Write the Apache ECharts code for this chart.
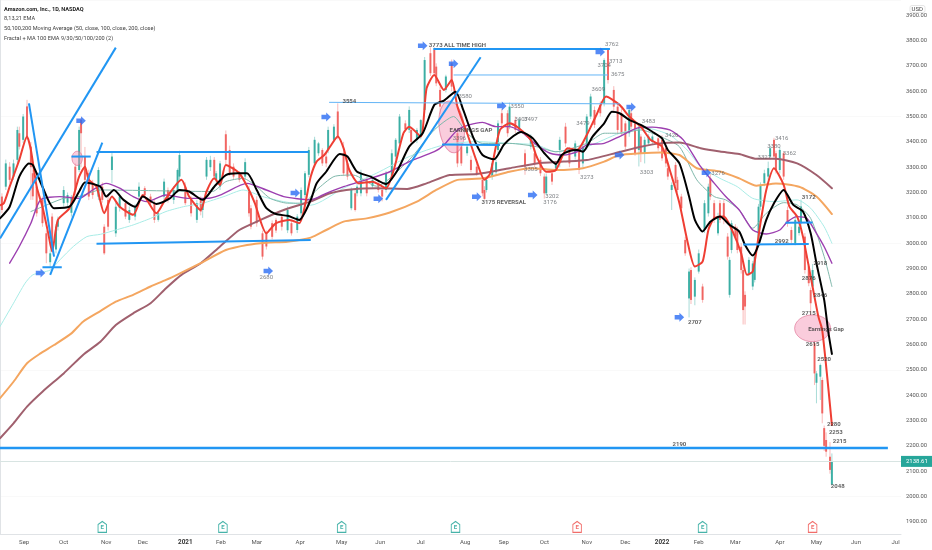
<!DOCTYPE html>
<html><head><meta charset="utf-8">
<style>html,body{margin:0;padding:0;background:#fff}#c{width:932px;height:550px}</style>
<script src="https://cdn.jsdelivr.net/npm/echarts@6/dist/echarts.min.js"></script>
</head><body><div id="c"></div>
<script>
const headerLines = ["Amazon.com, Inc., 1D, NASDAQ","8,13,21 EMA","50,100,200 Moving Average (50, close, 100, close, 200, close)","Fractal + MA 100 EMA 9/30/50/100/200 (2)"];
const priceTicks = [1900,2000,2100,2200,2300,2400,2500,2600,2700,2800,2900,3000,3100,3200,3300,3400,3500,3600,3700,3800,3900];
const monthBars = [12.5,33,55,74,96,114.5,133,155.5,177,197,218,241,261,282,304,324,343,362,381,404,423,443.5,464];
const monthNames = ["Sep","Oct","Nov","Dec","2021","Feb","Mar","Apr","May","Jun","Jul","Aug","Sep","Oct","Nov","Dec","2022","Feb","Mar","Apr","May","Jun","Jul"];
const lastPrice = 2138.61;
// bar, open, close, low, high
const candles = [[1,3184,3131,3118,3197],[3,3223,3315,3210,3330],[5,3302,3250,3236,3320],[7,3263,3315,3250,3330],[9,3329,3447,3315,3460],[10,3434,3381,3370,3460],[12,3408,3500,3395,3510],[14,3540,3420,3408,3566],[16,3381,3300,3171,3400],[17,3276,3185,3171,3290],[19,3223,3118,3105,3236],[22,3171,3079,3065,3184],[24,3039,2960,2921,3050],[26,2925,2960,2908,2975],[27,3105,2987,2975,3118],[29,2975,3065,2960,3075],[30,3065,3092,3050,3105],[33,3158,3210,3144,3225],[35,3160,3190,3144,3200],[37,3120,3180,3105,3190],[39,3302,3210,3190,3315],[41,3289,3447,3280,3460],[42,3487,3434,3300,3495],[44,3342,3250,3240,3380],[46,3276,3184,3170,3290],[48,3236,3190,3175,3250],[51,3184,3289,3170,3300],[53,3223,3171,3160,3240],[54,3065,2960,2954,3075],[56,3171,3065,3050,3190],[58,3289,3342,3236,3362],[60,3039,3144,3025,3160],[62,3140,3184,3125,3195],[65,3158,3105,3095,3170],[67,3092,3131,3080,3145],[70,3105,3144,3090,3155],[72,3184,3223,3170,3240],[75,3217,3190,3180,3225],[78,3184,3158,3150,3195],[80,3158,3092,3080,3170],[82,3092,3118,3085,3125],[85,3184,3243,3170,3255],[87,3210,3171,3160,3220],[90,3171,3210,3155,3225],[92,3210,3289,3200,3295],[93,3263,3348,3250,3365],[96,3223,3158,3150,3240],[99,3171,3118,3105,3185],[102,3092,3158,3080,3170],[104,3171,3125,3110,3185],[105,3131,3158,3100,3175],[107,3263,3329,3250,3340],[109,3300,3329,3285,3345],[111,3329,3263,3250,3340],[112,3250,3276,3240,3285],[114,3223,3315,3210,3325],[117,3430,3329,3310,3445],[119,3368,3276,3265,3385],[121,3302,3263,3250,3315],[124,3276,3250,3240,3285],[127,3263,3320,3250,3335],[129,3210,3118,3105,3225],[130,3138,3065,3055,3150],[133,3171,3079,3065,3185],[136,3039,2947,2935,3050],[138,3039,2987,2975,3050],[141,3079,3025,3015,3090],[143,3092,3050,3040,3100],[146,3105,3065,3050,3115],[149,3051,3131,3040,3145],[151,3079,3039,3030,3090],[154,3052,3105,3040,3115],[156,3118,3210,3105,3220],[158,3190,3276,3180,3285],[160,3270,3368,3260,3380],
[163,3315,3408,3300,3420],[165,3355,3394,3345,3400],[167,3368,3315,3305,3375],[169,3342,3315,3300,3355],[170,3368,3447,3355,3460],[173,3408,3460,3400,3470],[175,3520,3421,3410,3552],[178,3355,3276,3265,3400],[180,3315,3263,3250,3330],[182,3138,3210,3130,3220],[184,3197,3131,3125,3210],[185,3197,3223,3185,3235],[187,3197,3276,3185,3290],[190,3250,3197,3185,3260],[193,3225,3250,3215,3260],[196,3236,3210,3200,3250],[198,3210,3184,3165,3220],[200,3210,3276,3200,3285],[203,3263,3355,3250,3370],[205,3342,3408,3330,3415],[207,3394,3500,3385,3510],[210,3473,3450,3440,3485],[212,3447,3526,3435,3540],[213,3447,3400,3390,3460],[216,3408,3447,3395,3455],[218,3421,3486,3410,3490],[220,3526,3723,3515,3735],[223,3750,3671,3660,3773],[225,3763,3671,3660,3773],[226,3697,3631,3620,3710],[228,3605,3539,3510,3618],[231,3605,3658,3595,3665],[234,3710,3618,3600,3725],[237,3434,3315,3300,3450],[239,3381,3315,3305,3395],[242,3355,3381,3345,3390],[244,3329,3289,3280,3345],[247,3302,3276,3265,3315],[250,3250,3197,3185,3262],[251,3210,3175,3172,3225],[252,3210,3250,3200,3262],[255,3263,3315,3250,3325],[257,3280,3320,3270,3330],[258,3368,3473,3355,3485],[260,3513,3473,3460,3530],[263,3513,3434,3420,3525],[264,3460,3539,3450,3555],[267,3486,3447,3435,3500],[269,3447,3486,3435,3497],[272,3355,3302,3270,3370],[275,3381,3421,3370,3430],[277,3355,3315,3300,3365],[280,3329,3276,3265,3340],[282,3263,3197,3176,3275],[283,3197,3263,3190,3275],[286,3276,3243,3230,3290],[288,3295,3315,3285,3325],[290,3368,3408,3300,3420],[293,3460,3394,3380,3475],[295,3368,3315,3300,3380],[298,3342,3394,3330,3405],[300,3368,3289,3273,3380],[302,3315,3381,3300,3395],[304,3381,3500,3370,3510],[306,3500,3579,3490,3590],[308,3526,3467,3455,3540],[311,3546,3513,3500,3560],[313,3552,3723,3540,3730],[315,3763,3644,3630,3770],[318,3605,3539,3520,3620],[320,3539,3447,3430,3550],
[322,3513,3434,3425,3530],[324,3473,3381,3370,3483],[326,3434,3526,3420,3540],[327,3513,3460,3450,3539],[329,3473,3355,3345,3483],[331,3368,3460,3303,3473],[332,3421,3355,3320,3430],[334,3355,3408,3315,3420],[336,3394,3421,3385,3430],[338,3400,3421,3390,3430],[341,3414,3375,3365,3425],[343,3408,3335,3325,3426],[345,3375,3315,3300,3385],[346,3296,3263,3250,3310],[348,3210,3230,3131,3240],[350,3309,3237,3225,3320],[351,3250,3210,3200,3262],[353,3184,3138,3125,3195],[355,3013,2960,2950,3025],[357,2782,2888,2707,2900],[358,2894,2776,2760,2905],[360,2789,2855,2755,2865],[362,2888,2960,2880,2975],[364,2829,2776,2765,2840],[365,3052,3158,3040,3170],[367,3118,3223,3105,3235],[368,3256,3184,3170,3276],[370,3158,3092,3080,3170],[372,3039,3105,3030,3120],[373,3158,3092,3080,3170],[375,3158,3092,3075,3170],[377,3026,2947,2935,3040],[378,2796,2934,2785,2945],[379,2973,3079,2960,3090],[381,3065,3026,3015,3075],[382,3052,2973,2960,3065],[384,2986,2894,2880,3000],[385,2894,2736,2679,2905],[386,2796,2750,2679,2810],[388,2881,2934,2870,2945],[390,2829,2920,2815,2930],[391,2855,2947,2845,2960],[393,3013,3144,3000,3155],[394,3144,3230,3130,3240],[396,3237,3276,3225,3290],[398,3263,3296,3250,3322],[399,3342,3375,3330,3385],[401,3408,3342,3330,3416],[402,3355,3289,3275,3365],[404,3289,3368,3275,3378],[406,3355,3263,3250,3362],[408,3131,3079,3065,3145],[410,3052,3013,3000,3065],[412,3000,3092,2992,3105],[414,3040,3065,3030,3085],[415,3079,3145,3065,3172],[417,3026,2894,2880,3040],[419,2908,2842,2830,2918],[420,2815,2763,2715,2825],[421,2829,2894,2815,2918],[422,2605,2486,2440,2615],[423,2449,2486,2368,2495],[425,2473,2519,2381,2525],[426,2460,2328,2289,2470],[427,2270,2200,2180,2280],[428,2223,2177,2157,2253],[430,2157,2105,2090,2215],[431,2047,2138,2048,2170]];
const ema8 = [[0,3150],[2,3158],[5,3223],[10,3329],[14,3421],[16,3368],[19,3223],[22,3144],[25,3039],[27,2967],[30,3092],[36,3138],[39,3210],[41,3263],[44,3302],[46,3250],[50,3223],[54,3118],[58,3184],[62,3144],[69,3112],[74,3190],[81,3118],[86,3177],[94,3250],[98,3184],[104,3131],[107,3204],[111,3256],[114,3230],[117,3309],[124,3276],[129,3210],[132,3158],[138,3039],[143,3079],[150,3092],[155,3079],[161,3263],[164,3322],[168,3348],[171,3381],[175,3421],[178,3375],[181,3289],[186,3236],[193,3243],[200,3217],[204,3289],[209,3434],[212,3460],[218,3421],[221,3611],[225,3664],[230,3605],[234,3644],[237,3539],[242,3434],[247,3322],[251,3250],[254,3276],[259,3447],[264,3473],[269,3453],[275,3407],[278,3342],[283,3282],[288,3289],[294,3375],[299,3368],[304,3427],[309,3506],[314,3579],[321,3546],[326,3500],[332,3460],[337,3408],[343,3381],[347,3289],[352,3158],[356,3013],[360,2908],[364,2927],[367,3052],[370,3098],[375,3105],[380,3039],[384,2960],[387,2875],[390,2888],[394,3079],[397,3210],[401,3296],[406,3230],[409,3144],[413,3105],[416,3026],[420,2868],[424,2710],[426,2657],[431,2282]];
const ema21 = [[0,3098],[5,3144],[10,3263],[15,3315],[17,3309],[22,3223],[28,3138],[36,3144],[41,3204],[44,3240],[52,3223],[55,3184],[59,3210],[64,3171],[70,3144],[74,3184],[81,3155],[88,3177],[93,3210],[98,3204],[105,3171],[111,3223],[117,3269],[123,3276],[128,3276],[133,3210],[138,3138],[143,3115],[149,3108],[155,3092],[161,3171],[164,3236],[169,3282],[176,3352],[180,3342],[185,3282],[192,3263],[200,3234],[206,3289],[212,3381],[219,3434],[225,3546],[230,3563],[236,3598],[240,3526],[245,3421],[250,3348],[256,3331],[261,3388],[266,3423],[270,3439],[276,3414],[282,3355],[288,3313],[291,3348],[295,3364],[299,3368],[302,3361],[307,3421],[313,3473],[317,3519],[321,3513],[326,3487],[332,3467],[338,3440],[343,3414],[346,3368],[352,3315],[357,3184],[360,3092],[364,3046],[368,3085],[373,3105],[378,3072],[383,3046],[386,2993],[390,2951],[393,2993],[397,3092],[401,3158],[406,3210],[411,3151],[416,3125],[420,3039],[423,2921],[427,2776],[429,2657],[431,2563]];
const ma50 = [[5,2921],[10,2987],[16,3079],[21,3171],[31,3184],[41,3177],[48,3210],[55,3236],[62,3217],[69,3184],[76,3164],[86,3190],[97,3177],[107,3177],[114,3190],[128,3236],[138,3210],[147,3184],[161,3171],[169,3197],[178,3223],[192,3256],[202,3282],[212,3322],[225,3361],[230,3388],[237,3447],[243,3467],[250,3477],[257,3460],[264,3460],[271,3434],[278,3388],[285,3355],[292,3348],[299,3361],[304,3388],[313,3394],[321,3421],[330,3454],[338,3458],[347,3447],[354,3408],[363,3302],[370,3237],[376,3184],[383,3131],[390,3052],[397,3036],[404,3052],[408,3085],[413,3105],[418,3098],[423,3039],[427,2986],[431,2921]];
const ma100 = [[0,2388],[7,2453],[14,2526],[21,2565],[28,2598],[37,2644],[43,2690],[52,2732],[60,2769],[69,2796],[78,2829],[86,2855],[93,2880],[104,2921],[117,2973],[128,2993],[138,3002],[149,3006],[161,3022],[169,3052],[178,3085],[190,3098],[202,3121],[216,3164],[226,3210],[237,3250],[250,3256],[264,3282],[275,3296],[288,3289],[302,3296],[313,3322],[321,3348],[332,3355],[342,3358],[352,3348],[361,3296],[373,3283],[383,3256],[392,3227],[402,3236],[414,3223],[423,3184],[431,3115]];
const ma200 = [[0,2230],[7,2289],[14,2355],[22,2414],[33,2486],[43,2559],[52,2611],[60,2677],[69,2723],[78,2763],[86,2822],[94,2875],[104,2921],[114,2987],[124,3052],[135,3092],[147,3131],[161,3165],[171,3197],[183,3213],[195,3217],[211,3214],[221,3236],[233,3269],[247,3273],[264,3296],[278,3315],[292,3322],[304,3328],[321,3360],[332,3381],[342,3394],[352,3397],[363,3375],[373,3362],[383,3352],[392,3333],[402,3333],[413,3315],[423,3269],[431,3217]];
const ema100 = [[0,2671],[7,2763],[13,2842],[17,2875],[26,2894],[31,2934],[38,2987],[45,3026],[52,3035],[60,3052],[69,3072],[78,3098],[86,3125],[95,3144],[105,3158],[116,3184],[126,3210],[136,3184],[147,3164],[161,3150],[178,3217],[195,3276],[212,3342],[230,3388],[247,3401],[264,3394],[278,3388],[288,3361],[304,3381],[321,3434],[335,3454],[347,3427],[356,3368],[363,3302],[373,3256],[382,3223],[390,3177],[401,3164],[413,3171],[420,3138],[427,3065],[431,3000]];
const ema30 = [[16,3125],[22,3144],[33,3177],[41,3184],[52,3210],[110,3204],[117,3243],[126,3256],[133,3223],[140,3177],[149,3158],[157,3158],[164,3210],[173,3263],[183,3269],[195,3225],[212,3329],[225,3447],[235,3500],[242,3434],[250,3394],[264,3394],[278,3381],[288,3361],[304,3394],[313,3434],[321,3434],[332,3447],[342,3421],[352,3381],[361,3250],[370,3184],[376,3171],[383,3131],[390,3059],[397,3118],[406,3160],[413,3151],[420,3098],[427,2947],[431,2829]];
// bar1, price1, bar2, price2, line width
const trendLines = [[15,3552,28,2947,2],[0,3019,60,3772,2],[26,2875,53,3397,2],[22,2905,32,2905,2],[37,3342,47,3342,2],[50,3360,160,3360,2],[50,2998,161,3013,2],[170.5,3556,321,3550,1],[224.5,3767,316,3767,2],[200,3171,249,3734,2],[235,3664,315,3664,1],[229,3390,259,3388,2],[385,2995,419,2997,2],[407,3081,421,3082,2],[0,2191,460,2191,2.5]];
// centre bar, centre price, bar radius, price radius, rotation
const ellipses = [[234,3459,6.5,103,0.12],[40,3335,2.7,28,0],[421,2664,9.3,53,0]];
const arrows = [[21,2882],[42,3483],[153,3198],[139,2890],[169,3498],[196,3175],[219,3779],[235,3708],[247,3183],[260,3542],[276,3190],[311,3755],[321,3348],[327,3538],[366,3278],[352,2708]];
// bar, price, text, bold
const notes = [[138,2863,"2680",0],[181,3558,"3554",1],[237,3780,"3773 ALL TIME HIGH",1],[317,3783,"3762",0],[319,3719,"3713",0],[313,3700,"3704",0],[320,3664,"3675",0],[310,3605,"3609",0],[241,3581,"3580",0],[238,3415,"3396",0],[244,3443,"EARNINGS GAP",1],[261,3159,"3175 REVERSAL",1],[268,3538,"3550",0],[270,3490,"3407",0],[275,3490,"3497",0],[302,3471,"3479",0],[275,3289,"3305",0],[304,3261,"3273",0],[286,3183,"3202",0],[285,3159,"3176",0],[336,3479,"3483",0],[348,3427,"3426",0],[335,3281,"3303",0],[372,3277,"3276",0],[405,3415,"3416",0],[401,3380,"3380",0],[396,3340,"3327",0],[409,3356,"3362",0],[419,3179,"3172",1],[405,3005,"2992",1],[425,2918,"2918",1],[419,2859,"2876",1],[425,2792,"2846",1],[419,2721,"2715",1],[360,2685,"2707",1],[428,2658,"Earnings Gap",1],[421,2602,"2615",1],[427,2539,"2520",1],[432,2283,"2280",1],[433,2251,"2253",1],[435,2219,"2215",1],[352,2207,"2190",1],[434,2038,"2048",1]];
const earningsUp = [[53,1880],[115.5,1880],[177,1880],[236,1880],[364,1880]];
const earningsDown = [[299,1880],[421,1880]];

const GREEN='#26a69a',RED='#ef5350',BLUE='#2196f3',FONT='Roboto, sans-serif';
const chart = echarts.init(document.getElementById('c'),null,{renderer:'canvas'});
function lineSeries(data,color,width,z,opacity){return {type:'line',data,symbol:'none',smooth:0.22,z,silent:true,lineStyle:{color,width,opacity:opacity==null?1:opacity,cap:'round',join:'round'}};}
function earnSeries(data,color){return {type:'scatter',data,z:20,silent:true,symbol:'path://M0,4 L5,0 L10,4 L10,14 L0,14 Z',symbolSize:[8.5,11],itemStyle:{color:'#fff',borderColor:color,borderWidth:1,opacity:.85},label:{show:true,position:'inside',formatter:'E',fontSize:6,fontWeight:'bold',color,fontFamily:FONT,offset:[0,1]}};}
const series = [
 {type:'custom',z:2,silent:true,clip:true,data:candles,encode:{x:0,y:[1,2,3,4]},renderItem(p,api){
   const b=api.value(0),o=api.value(1),c=api.value(2),l=api.value(3),h=api.value(4),col=c>=o?GREEN:RED;
   const pl=api.coord([b,l]),ph=api.coord([b,h]),po=api.coord([b,o]),pc=api.coord([b,c]);
   return {type:'group',children:[
     {type:'line',shape:{x1:pl[0],y1:pl[1],x2:ph[0],y2:ph[1]},style:{stroke:col,lineWidth:1,opacity:.4}},
     {type:'rect',shape:{x:po[0]-1,y:Math.min(po[1],pc[1]),width:2,height:Math.max(1,Math.abs(po[1]-pc[1]))},style:{fill:col,opacity:.85}}
   ]};
 }},
 {type:'custom',z:3,silent:true,data:ellipses,encode:{x:0,y:1},renderItem(p,api){
   const b=api.value(0),pr=api.value(1),rb=api.value(2),rp=api.value(3),rot=api.value(4);
   const c=api.coord([b,pr]),e=api.coord([b+rb,pr]),t=api.coord([b,pr+rp]);
   return {type:'ellipse',x:c[0],y:c[1],rotation:rot,shape:{cx:0,cy:0,rx:e[0]-c[0],ry:c[1]-t[1]},style:{fill:'rgba(244,143,177,.45)',stroke:'rgba(216,90,130,.55)',lineWidth:1}};
 }},
 lineSeries(ema100,'#a8ece6',1,4),
 lineSeries(ema30,'#7fb8ab',1,4),
 lineSeries(ma200,'#a0606e',2,5),
 lineSeries(ma100,'#f4a660',2,5),
 lineSeries(ma50,'#9c3fb0',1.4,6),
 lineSeries(ema21,'#000000',2,8),
 lineSeries(ema8,'#ef3e33',2,7),
 {type:'scatter',data:arrows,z:10,silent:true,symbol:'path://M0,2.5 L6,2.5 L6,0 L12,5 L6,10 L6,7.5 L0,7.5 Z',symbolSize:[9.5,9],itemStyle:{color:'#2a6df4'}},
 {type:'scatter',data:notes.map(n=>({value:[n[0],n[1]],name:n[2],label:{fontWeight:n[3]?'bold':'normal',color:n[3]?'#3a3a3a':'#5f6368',formatter:n[2]}})),z:30,silent:true,symbolSize:1,itemStyle:{color:'rgba(0,0,0,0)'},label:{show:true,position:'inside',fontFamily:FONT,fontSize:6}},
 earnSeries(earningsUp,GREEN),
 earnSeries(earningsDown,RED),
 {type:'line',data:[],symbol:'none',z:1,silent:true,markLine:{silent:true,symbol:'none',animation:false,lineStyle:{color:'#d8e4e2',width:1,type:'solid'},data:[{yAxis:lastPrice}],label:{position:'end',distance:0,formatter:lastPrice.toFixed(2),color:'#fff',backgroundColor:GREEN,fontSize:6,fontFamily:FONT,padding:[2.5,5,2.5,5]}}}
];
trendLines.forEach(t=>series.push({type:'line',data:[[t[0],t[1]],[t[2],t[3]]],symbol:'none',z:9,silent:true,lineStyle:{color:t[4]<2?'#64b5f6':BLUE,width:t[4]}}));
const option = {
 animation:false,backgroundColor:'#fff',
 title: headerLines.map((t,i)=>({text:t,left:4,top:6.3+i*9.6,padding:0,textStyle:{fontSize:5.6,fontFamily:FONT,fontWeight:i?'normal':'bold',color:i?'#3f3f3f':'#222'}}))
   .concat([{text:'USD',left:909.5,top:5,padding:[1,2,1,2],backgroundColor:'#fff',borderColor:'#e6e6e6',borderWidth:1,borderRadius:2,textStyle:{fontSize:6,fontFamily:FONT,fontWeight:'normal',color:'#444'}}]),
 grid:{left:0,top:0,width:901,height:534,containLabel:false,outerBoundsMode:'none'},
 xAxis:{type:'value',min:0,max:466.8,axisLine:{show:true,lineStyle:{color:'#e0e3e6'}},axisTick:{show:false},
  splitLine:{show:false},
  axisLabel:{customValues:monthBars,margin:5,fontSize:6,fontFamily:FONT,color:'#555',hideOverlap:false,
    formatter:v=>{const n=monthNames[monthBars.indexOf(v)];return /^\d/.test(n)?'{y|'+n+'}':n;},rich:{y:{fontWeight:'bold',fontSize:6.3,color:'#333',fontFamily:FONT}}},
  axisPointer:{show:false}},
 yAxis:{type:'value',position:'right',min:1852,max:3960,axisLine:{show:true,lineStyle:{color:'#e0e3e6'}},axisTick:{show:false},
  splitLine:{show:true,lineStyle:{color:'#f9f9f9',width:1}},
  axisLabel:{customValues:priceTicks,margin:5,fontSize:5.8,fontFamily:FONT,color:'#555',formatter:v=>v.toFixed(2)}},
 series
};
chart.setOption(option);
</script></body></html>
